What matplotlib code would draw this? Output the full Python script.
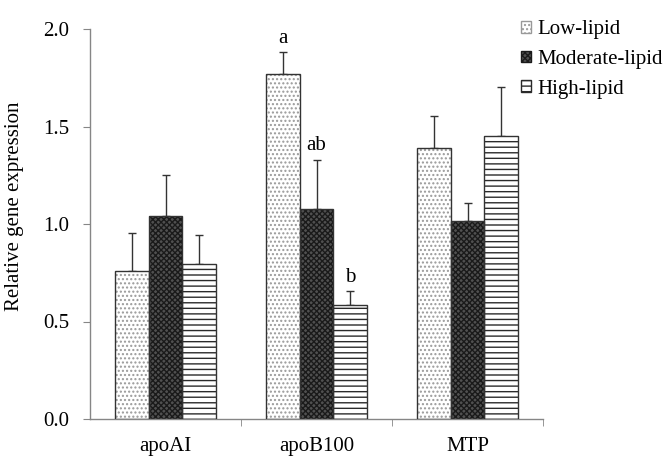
import matplotlib
matplotlib.use("Agg")
import matplotlib.pyplot as plt
import numpy as np
from matplotlib.patches import Rectangle

categories = ["apoAI", "apoB100", "MTP"]
series_names = ["Low-lipid", "Moderate-lipid", "High-lipid"]
low = [0.76, 1.77, 1.39]
moderate = [1.04, 1.075, 1.015]
high = [0.795, 0.585, 1.45]
low_err = [0.195, 0.11, 0.165]
moderate_err = [0.21, 0.255, 0.095]
high_err = [0.15, 0.07, 0.255]
letters_low = ["", "a", ""]
letters_mod = ["", "ab", ""]
letters_high = ["", "b", ""]
yticks = [0.0, 0.5, 1.0, 1.5, 2.0]

plt.rcParams['font.family'] = ['Liberation Serif', 'DejaVu Serif']
plt.rcParams['hatch.linewidth'] = 1.0

fig = plt.figure(figsize=(6.66, 4.58), dpi=100)
ax = fig.add_axes([90/666, 1-419/458, (543-90)/666, (419-29)/458])

x = np.arange(len(categories))
w = 0.225
styles = [
    dict(face="white", hatch="....", hcolor="#999999"),
    dict(face="#505050", hatch="xxxxxx", hcolor="#1a1a1a"),
    dict(face="white", hatch="---", hcolor="#2a2a2a"),
]
vals = [low, moderate, high]
errs = [low_err, moderate_err, high_err]
letters = [letters_low, letters_mod, letters_high]
offs = [-w, 0, w]
for v, e, s, o, lt in zip(vals, errs, styles, offs, letters):
    ax.errorbar(x + o, v, yerr=[np.zeros(len(v)), e], fmt='none', ecolor='#333333',
                elinewidth=1.0, capsize=3, capthick=1.0, zorder=1)
    ax.bar(x + o, v, w, color=s["face"], edgecolor=s["hcolor"], hatch=s["hatch"],
           linewidth=0, zorder=2)
    ax.bar(x + o, v, w, fill=False, edgecolor="#333333", linewidth=1.0, zorder=3)
    for xi, vi, ei, li in zip(x + o, v, e, lt):
        if li:
            ax.text(xi, vi + ei + 0.05, li, ha='center', va='baseline', fontsize=15)

ax.set_ylim(0, 2.0)
ax.set_xlim(-0.5, 2.5)
ax.set_yticks(yticks)
ax.set_yticklabels([f"{t:.1f}" for t in yticks], fontsize=15)
ax.set_xticks(x)
ax.set_xticklabels(categories, fontsize=15)
ax.tick_params(axis='x', length=0, pad=13)
ax.set_xticks([0.5, 1.5, 2.5], minor=True)
ax.tick_params(axis='x', which='minor', length=5, color='#868686', direction='out')
ax.tick_params(axis='y', length=5, color='#868686', direction='out', pad=10)
for side in ['top', 'right']:
    ax.spines[side].set_visible(False)
for side in ['left', 'bottom']:
    ax.spines[side].set_color('#868686')
    ax.spines[side].set_linewidth(1.0)
ax.set_ylabel("Relative gene expression", fontsize=15)
ax.yaxis.set_label_coords(-66/453, 0.545)

handles = []
for s in styles:
    handles.append(Rectangle((0, 0), 1, 1, facecolor=s["face"], edgecolor=s["hcolor"],
                             hatch=s["hatch"], linewidth=1.0))
leg = fig.legend(handles, series_names, loc='upper left', bbox_to_anchor=(521/666, 1-20/458),
                 frameon=False, fontsize=15, handlelength=0.5, handleheight=0.5,
                 handletextpad=0.3, labelspacing=0.52, borderaxespad=0, borderpad=0)

fig.savefig("out.png", dpi=100)
